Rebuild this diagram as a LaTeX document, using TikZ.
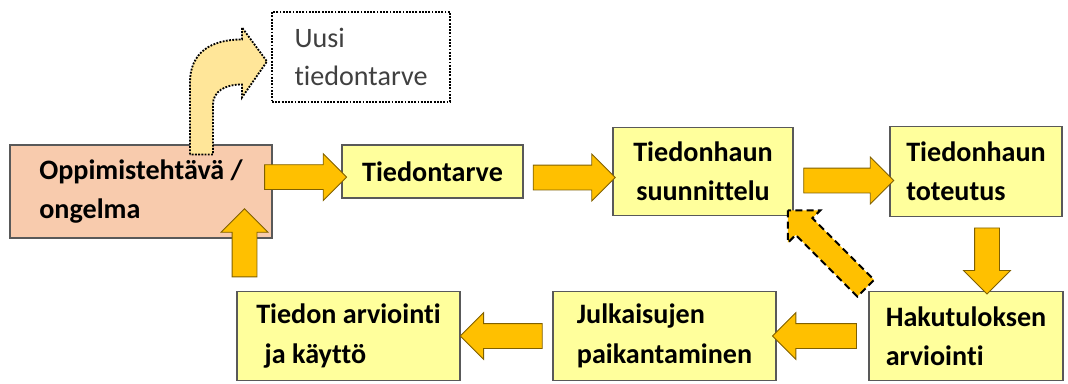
\documentclass[tikz,border=0pt]{standalone}
\usepackage{fontspec}
\setmainfont{Carlito}[Ligatures=NoCommon]
\usepackage{xcolor}
\usepackage{tikz}
\usetikzlibrary{arrows,shapes,shapes.arrows,positioning}

\definecolor{boxfill}{HTML}{FFFF9C}
\definecolor{taskfill}{HTML}{F8CBAD}
\definecolor{boxline}{HTML}{595959}
\definecolor{arrfill}{HTML}{FFC000}
\definecolor{arrline}{HTML}{806000}
\definecolor{newfill}{HTML}{FFE699}
\definecolor{notetext}{HTML}{404040}

\begin{document}
\begin{tikzpicture}[node distance=1.8cm,
  phasebox/.style={draw=boxline, line width=0.8pt, fill=boxfill, align=left, inner sep=0pt,
    font=\bfseries\fontsize{20}{28}\selectfont, minimum height=2.225cm},
  taskbox/.style={phasebox, fill=taskfill},
  notebox/.style={draw=black, densely dotted, line width=1.3pt, align=left, inner sep=0pt,
    text=notetext, font=\fontsize{20}{27}\selectfont},
  blockarr/.style={single arrow, draw=arrline, fill=arrfill, line width=0.6pt,
    inner xsep=0pt, inner ysep=0.3cm, single arrow head extend=0.275cm, single arrow tip angle=90,
    sloped, allow upside down, anchor=center},
  backarr/.style={blockarr, draw=black, line width=1.4pt, dash pattern=on 5pt off 3pt,
    inner ysep=0.27cm}]
\useasboundingbox (0,0) rectangle (26.7,9.575);

% Task box
\node[taskbox, minimum width=6.55cm, minimum height=2.325cm] (opp) at (3.525,4.7875)
{Oppimistehtävä /\\ongelma};

% Upper row
\node[phasebox, right of=opp, node distance=7.2875cm, yshift=0.5cm, minimum width=4.525cm, minimum height=1.325cm] (need)
{Tiedontarve};
\node[phasebox, right of=need, node distance=6.7625cm, minimum width=4.5cm, minimum height=2.2cm, align=center] (plan)
{Tiedonhaun\\suunnittelu};
\node[phasebox, right of=plan, node distance=6.825cm, minimum width=4.3cm, minimum height=2.25cm] (exec)
{Tiedonhaun\\toteutus};

% Lower row
\node[phasebox, below of=exec, node distance=4.1125cm, xshift=-0.25cm, minimum width=4.85cm] (hits)
{Hakutuloksen\\arviointi};
\node[phasebox, left of=hits, node distance=7.5375cm, minimum width=5.575cm] (locate)
{Julkaisujen\\paikantaminen};
\node[phasebox, left of=locate, node distance=7.9cm, minimum width=5.575cm] (use)
{Tiedon arviointi\\\hspace{0.3em}ja käyttö};

% New need
\node[notebox, above of=opp, node distance=3.3625cm, xshift=5.5cm, minimum width=4.45cm, minimum height=2.25cm] (uusi)
{Uusi\\tiedontarve};

% Arrows
\path ([yshift=-0.14cm]opp.east |- need.west) -- ([yshift=-0.14cm]need.west)
  node[blockarr, pos=0.39, minimum height=2.05cm] {};
\path ([yshift=-0.15cm]need.east) -- ([yshift=-0.15cm]need.east -| plan.west)
  node[blockarr, pos=0.5, minimum height=2.05cm] {};
\path ([yshift=-0.225cm]plan.east) -- ([yshift=-0.225cm]plan.east -| exec.west)
  node[blockarr, pos=0.51, minimum height=2.25cm] {};
\path ([xshift=0.275cm]exec.south) -- ([xshift=0.275cm]exec.south |- hits.north)
  node[blockarr, pos=0.51, minimum height=1.65cm] {};
\path (hits.west) -- (hits.west -| locate.east)
  node[blockarr, pos=0.52, minimum height=2.1cm] {};
\path (locate.west) -- (use.east)
  node[blockarr, pos=0.49, minimum height=2.05cm] {};
\path ([xshift=-2.6cm]use.north) -- ([xshift=-2.6cm]use.north |- opp.south)
  node[blockarr, pos=0.8, minimum height=1.7cm] {};
\path (hits.north west) -- (plan.south east)
  node[backarr, pos=0.5, minimum height=2.75cm] {};

% Bent arrow to the new need
\begin{scope}[shift={(opp.north)}, x=0.025cm, y=0.025cm]
\draw[black, densely dotted, line width=1.3pt, fill=newfill]
  (49,-10) -- (49,62) .. controls (49,92) and (70,105) .. (101,105)
  -- (101,117) -- (126,83) -- (101,47) -- (101,60)
  .. controls (84,60) and (72,53) .. (72,40) -- (72,-10) -- cycle;
\end{scope}
\end{tikzpicture}
\end{document}
